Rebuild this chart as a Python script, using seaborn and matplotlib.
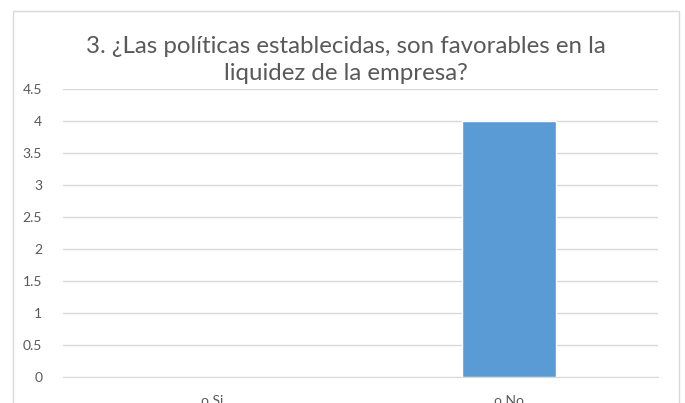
import matplotlib
matplotlib.use("Agg")
import matplotlib.pyplot as plt
import seaborn as sns
import pandas as pd
from matplotlib.patches import Rectangle

# Datos
Categorias = ["o Si", "o No"]
Valores = [0, 4]
Ticks_Y = [0, 0.5, 1, 1.5, 2, 2.5, 3, 3.5, 4, 4.5]
Titulo = "3. ¿Las políticas establecidas, son favorables en la\nliquidez de la empresa?"

Base_Dados = pd.DataFrame({"categoria": Categorias, "valor": Valores})

sns.set_style("white")
plt.rcParams["font.family"] = ["Lato", "DejaVu Sans"]

fig = plt.figure(figsize=(6.85, 4.03), dpi=100)
ax = fig.add_axes([0.092, 0.0645, 0.8686, 0.7145])

# Grafico
sns.barplot(data=Base_Dados, x="categoria", y="valor", color="#5B9BD5",
            saturation=1, width=0.315, ax=ax, zorder=3)

ax.set_ylim(0, 4.5)
ax.set_yticks(Ticks_Y)
ax.set_yticklabels([f"{v:g}" for v in Ticks_Y])
ax.set_xlim(-0.5, 1.5)
ax.grid(axis="y", color="#D9D9D9", linewidth=1, zorder=0)
ax.set_axisbelow(True)
for s in ax.spines.values():
    s.set_visible(False)
ax.spines["bottom"].set_visible(True)
ax.spines["bottom"].set_color("#D9D9D9")
ax.tick_params(axis="both", length=0, labelsize=10, labelcolor="#595959")
ax.tick_params(axis="y", pad=15)
ax.tick_params(axis="x", pad=13)
ax.set_xlabel("")
ax.set_ylabel("")

# Titulo
fig.text(0.505, 0.851, Titulo, ha="center", va="center", fontsize=17.3,
         color="#595959", linespacing=1.3)

# Borde
fig.patches.append(Rectangle((13 / 685, -0.1), (679 - 13) / 685, 1.1 - 11 / 403,
                             transform=fig.transFigure, fill=False,
                             edgecolor="#D9D9D9", linewidth=1))

fig.savefig("out.png", dpi=100)
